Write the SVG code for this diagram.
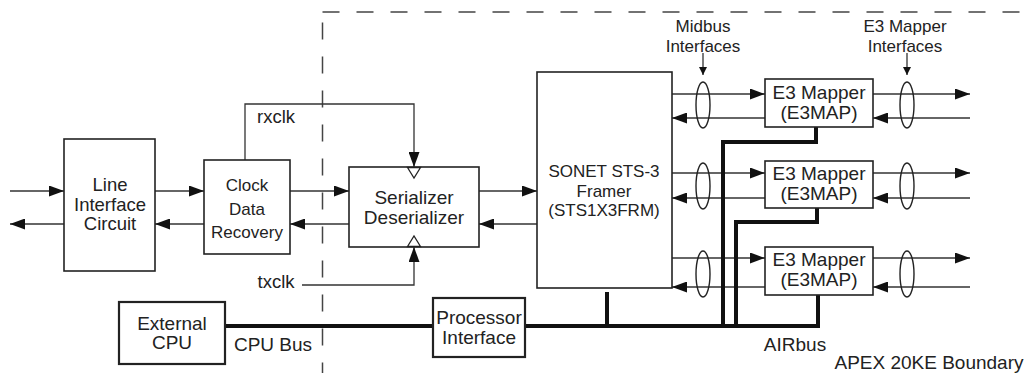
<svg xmlns="http://www.w3.org/2000/svg" width="1026" height="373" viewBox="0 0 1026 373">
<style>
text{font-family:"Liberation Sans",Arial,sans-serif;font-size:19px;fill:#222;text-anchor:middle}
.s17{font-size:17px}
.s18{font-size:18.5px}
.box{fill:#fff;stroke:#222;stroke-width:1.6}
.bbox{fill:#fff;stroke:#222;stroke-width:2.2}
.ln{fill:none;stroke:#333;stroke-width:1.3}
.bus{fill:none;stroke:#111;stroke-width:4}
.dash{fill:none;stroke:#444;stroke-width:1.5;stroke-dasharray:17,17}
.ell{fill:none;stroke:#222;stroke-width:1.4}
.open{fill:#fff;stroke:#222;stroke-width:1.3}
</style>
<defs>
<marker id="ah" markerUnits="userSpaceOnUse" markerWidth="15" markerHeight="11" refX="15" refY="5.5" orient="auto">
<path d="M0,0 L15,5.5 L0,11 z" fill="#111"/>
</marker>
<marker id="sh" markerUnits="userSpaceOnUse" markerWidth="8" markerHeight="8" refX="8" refY="4" orient="auto">
<path d="M0,0 L8,4 L0,8 z" fill="#111"/>
</marker>
</defs>

<g id="boundary">
<path class="dash" d="M322.5,12 H1026"/>
<path class="dash" d="M322.5,22.5 V373"/>
</g>

<g id="connectors">
<path class="ln" d="M10,191 H64" marker-end="url(#ah)"/>
<path class="ln" d="M64,224 H10" marker-end="url(#ah)"/>
<path class="ln" d="M155,191 H204" marker-end="url(#ah)"/>
<path class="ln" d="M204,224 H155" marker-end="url(#ah)"/>
<path class="ln" d="M290,191 H349" marker-end="url(#ah)"/>
<path class="ln" d="M349,224 H290" marker-end="url(#ah)"/>
<path class="ln" d="M479,191 H537" marker-end="url(#ah)"/>
<path class="ln" d="M537,224 H479" marker-end="url(#ah)"/>
<path class="ln" d="M245,160 V104 H414 V167" marker-end="url(#ah)"/>
<path class="ln" d="M302,285 H414 V247" marker-end="url(#ah)"/>
<path class="ln" d="M672,94 H765" marker-end="url(#ah)"/>
<path class="ln" d="M765,118 H672" marker-end="url(#ah)"/>
<path class="ln" d="M672,173 H765" marker-end="url(#ah)"/>
<path class="ln" d="M765,198 H672" marker-end="url(#ah)"/>
<path class="ln" d="M672,258 H765" marker-end="url(#ah)"/>
<path class="ln" d="M765,287 H672" marker-end="url(#ah)"/>
<path class="ln" d="M873,94 H970" marker-end="url(#ah)"/>
<path class="ln" d="M970,118 H873" marker-end="url(#ah)"/>
<path class="ln" d="M873,173 H970" marker-end="url(#ah)"/>
<path class="ln" d="M970,198 H873" marker-end="url(#ah)"/>
<path class="ln" d="M873,258 H970" marker-end="url(#ah)"/>
<path class="ln" d="M970,287 H873" marker-end="url(#ah)"/>
<path class="ln" d="M703,53 V75" marker-end="url(#sh)"/>
<path class="ln" d="M907,53 V75" marker-end="url(#sh)"/>
<ellipse class="ell" cx="703" cy="105" rx="7" ry="23"/>
<ellipse class="ell" cx="703" cy="186" rx="7" ry="23"/>
<ellipse class="ell" cx="703" cy="274" rx="7" ry="23"/>
<ellipse class="ell" cx="907" cy="105" rx="7" ry="23"/>
<ellipse class="ell" cx="907" cy="186" rx="7" ry="23"/>
<ellipse class="ell" cx="907" cy="274" rx="7" ry="23"/>
<path class="bus" d="M225,326 H433"/>
<path class="bus" d="M525,326 H818 V295"/>
<path class="bus" d="M607,292 V326"/>
<path class="bus" d="M723,326 V142 H816 V127"/>
<path class="bus" d="M736,326 V222 H817 V208"/>
</g>

<g id="line-interface">
<rect class="box" x="64" y="139" width="91" height="132"/>
<text class="s18" x="110" y="191">Line</text>
<text class="s18" x="110" y="211">Interface</text>
<text class="s18" x="110" y="230">Circuit</text>
</g>

<g id="cdr">
<rect class="box" x="204" y="160" width="86" height="94"/>
<text class="s17" x="247" y="191">Clock</text>
<text class="s17" x="247" y="215">Data</text>
<text class="s17" x="247" y="238">Recovery</text>
</g>

<g id="serdes">
<rect class="box" x="349" y="167" width="130" height="80"/>
<text x="414" y="204">Serializer</text>
<text x="414" y="224">Deserializer</text>
<path class="open" d="M407.5,167.5 L420.5,167.5 L414,178 z"/>
<path class="open" d="M407.5,246.5 L420.5,246.5 L414,236 z"/>
</g>

<g id="framer">
<rect class="box" x="537" y="72" width="135" height="216"/>
<text class="s17" x="604" y="177">SONET STS-3</text>
<text class="s17" x="604" y="197">Framer</text>
<text class="s17" x="604" y="216">(STS1X3FRM)</text>
</g>

<g id="mapper1">
<rect class="box" x="765" y="79" width="108" height="48"/>
<text x="819" y="99">E3 Mapper</text>
<text x="819" y="119">(E3MAP)</text>
</g>
<g id="mapper2">
<rect class="box" x="765" y="161" width="108" height="47"/>
<text x="819" y="180">E3 Mapper</text>
<text x="819" y="200">(E3MAP)</text>
</g>
<g id="mapper3">
<rect class="box" x="765" y="247" width="108" height="48"/>
<text x="819" y="266">E3 Mapper</text>
<text x="819" y="286">(E3MAP)</text>
</g>

<g id="processor-interface">
<rect class="bbox" x="433" y="298" width="92" height="59"/>
<text x="479" y="324">Processor</text>
<text x="479" y="344">Interface</text>
</g>

<g id="external-cpu">
<rect class="bbox" x="119" y="302" width="106" height="62"/>
<text x="172" y="330">External</text>
<text x="172" y="349">CPU</text>
</g>

<g id="labels">
<text class="s18" x="276" y="123">rxclk</text>
<text class="s18" x="276" y="288">txclk</text>
<text x="273" y="351">CPU Bus</text>
<text x="795" y="351">AIRbus</text>
<text x="929" y="369">APEX 20KE Boundary</text>
<text class="s17" x="703" y="32">Midbus</text>
<text class="s17" x="703" y="52">Interfaces</text>
<text class="s17" x="905" y="32">E3 Mapper</text>
<text class="s17" x="905" y="52">Interfaces</text>
</g>
</svg>
